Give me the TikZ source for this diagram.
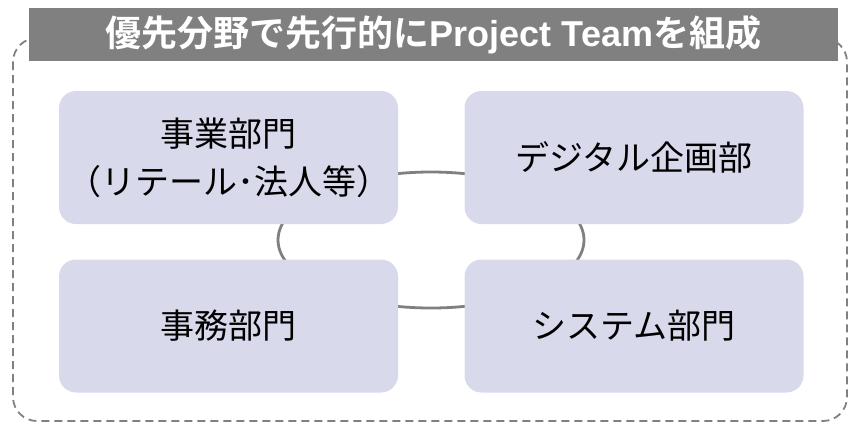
\documentclass[tikz,border=0pt]{standalone}
\usepackage{fontspec}
\setmainfont{Liberation Sans}
\newfontfamily\jpfont{Noto Sans CJK JP}
\newfontfamily\jpbold{Noto Sans CJK JP Bold}
\definecolor{boxfill}{RGB}{217,217,236}
\definecolor{linegray}{RGB}{128,128,128}
\tikzset{
  dept/.style={draw=none, fill=boxfill, rounded corners=17pt, minimum width=339pt, minimum height=133pt, inner sep=0pt, align=center, text=black, font=\jpfont\fontsize{34}{48}\selectfont},
  ring/.style={draw=linegray, line width=2.8pt},
  frame/.style={draw=linegray, line width=1.8pt, dash pattern=on 8pt off 5pt, rounded corners=24pt},
  titlebar/.style={fill=linegray, draw=none, minimum width=809pt, minimum height=53pt, inner sep=0pt, text=white}
}
\begin{document}
\begin{tikzpicture}
\useasboundingbox (0pt,0pt) rectangle (850pt,-424pt);
\coordinate (fa) at (13pt,-38pt);
\coordinate (fb) at (847pt,-421pt);
\draw[frame] (fa) rectangle (fb);
\coordinate (ringc) at (431pt,-240pt);
\draw[ring] (ringc) ellipse [x radius=153pt, y radius=68pt];
\node[titlebar] (title) at (433.5pt,-34.5pt) {\fontsize{36}{40}\selectfont{\jpbold 優先分野で先行的に}\textbf{Project Team}{\jpbold を組成}};
\node[dept] (biz) at (228.5pt,-157.5pt) {\raisebox{-1.5pt}{事業部門}\\\raisebox{-1.5pt}{（リテール･法人等）}};
\node[dept] (dig) at (634pt,-157.5pt) {デジタル企画部};
\node[dept] (ops) at (228.5pt,-326pt) {事務部門};
\node[dept] (sys) at (634pt,-326pt) {システム部門};
\end{tikzpicture}
\end{document}
